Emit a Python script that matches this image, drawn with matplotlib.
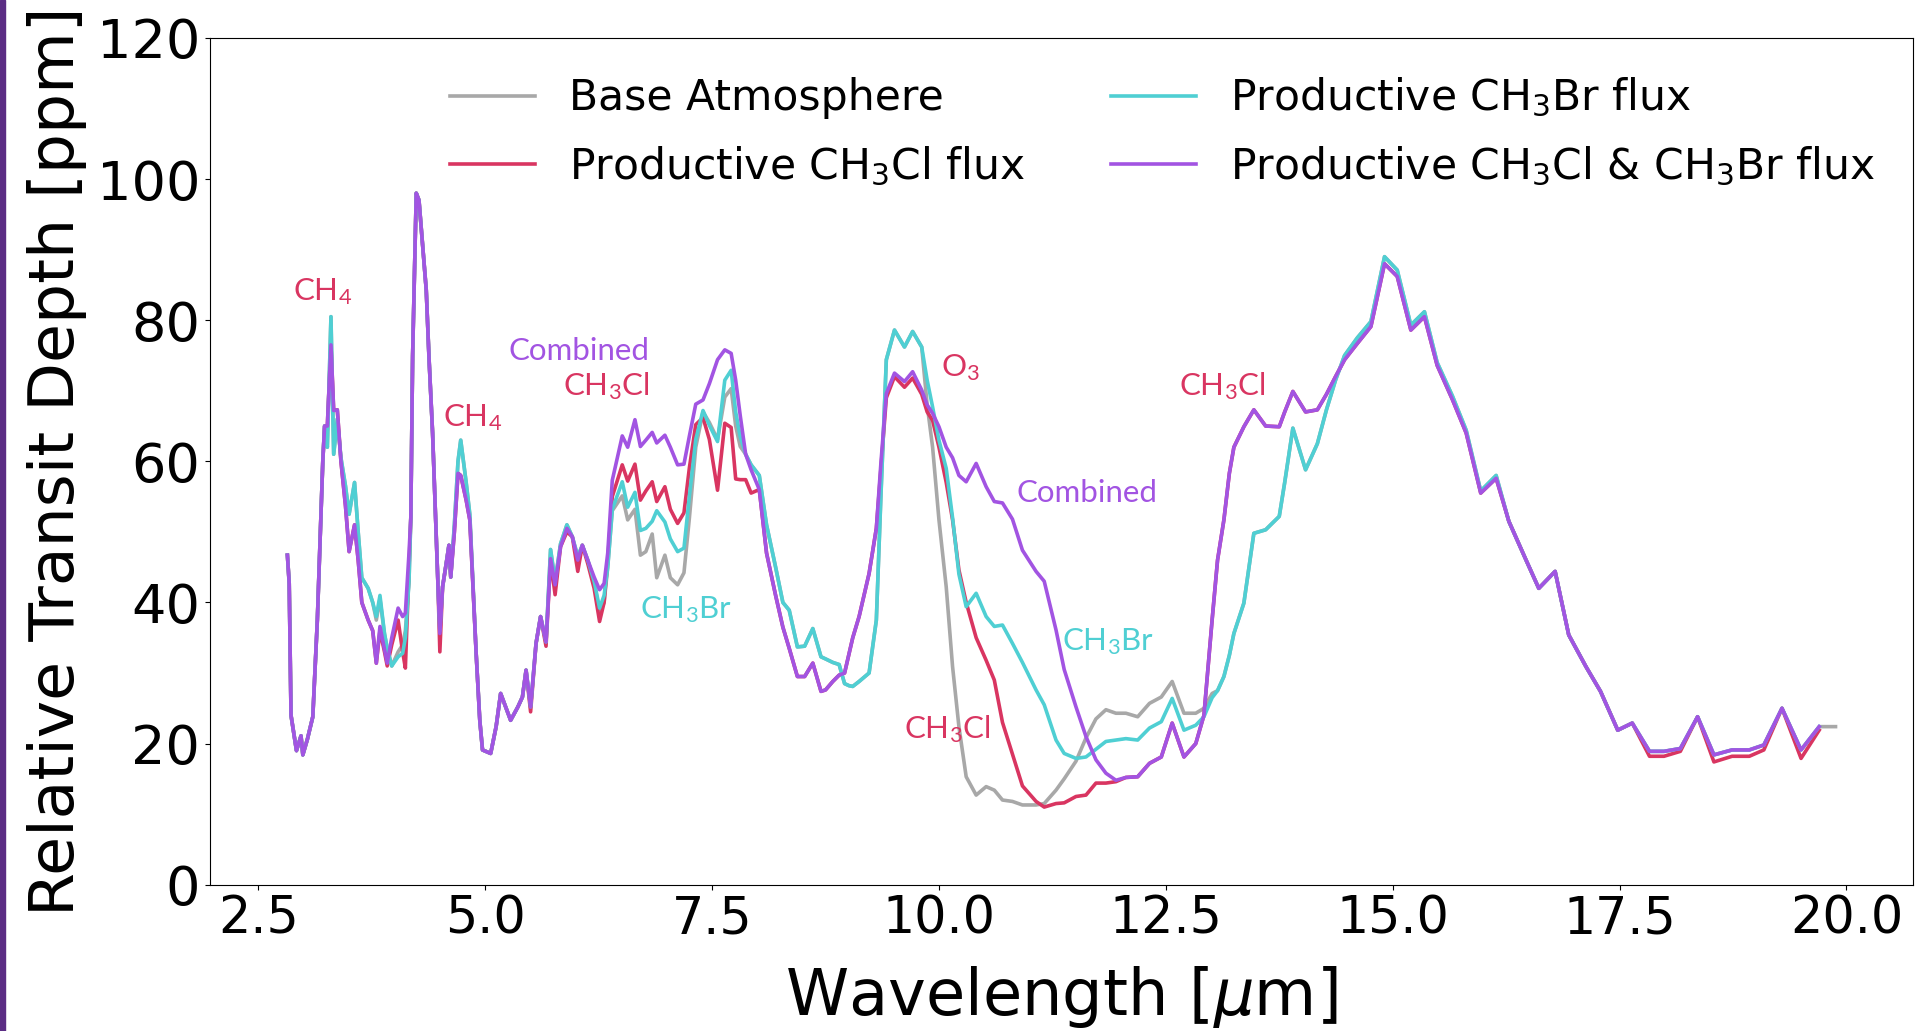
import matplotlib
matplotlib.use("Agg")
import matplotlib.pyplot as plt
import numpy as np
from matplotlib.patches import Rectangle


OUTPUT_IMAGE = "out.png"

wavelength = [
    2.82, 2.84, 2.86, 2.92, 2.97, 2.99, 3.04, 3.10, 3.15, 3.21,
    3.23, 3.26, 3.30, 3.33, 3.37, 3.41, 3.46, 3.50, 3.56, 3.60,
    3.64, 3.71, 3.76, 3.80, 3.84, 3.89, 3.92, 3.97, 4.04, 4.09,
    4.12, 4.16, 4.18, 4.20, 4.24, 4.27, 4.35, 4.38, 4.42, 4.48,
    4.50, 4.53, 4.57, 4.60, 4.62, 4.66, 4.70, 4.73, 4.79, 4.83,
    4.90, 4.94, 4.97, 5.06, 5.12, 5.17, 5.28, 5.36, 5.41, 5.45,
    5.50, 5.56, 5.61, 5.67, 5.72, 5.77, 5.83, 5.90, 5.96, 6.02,
    6.07, 6.13, 6.20, 6.26, 6.31, 6.35, 6.40, 6.51, 6.57, 6.65,
    6.71, 6.77, 6.84, 6.89, 6.98, 7.04, 7.12, 7.19, 7.25, 7.32,
    7.40, 7.47, 7.56, 7.64, 7.71, 7.76, 7.81, 7.87, 7.93, 8.02,
    8.10, 8.20, 8.28, 8.35, 8.44, 8.52, 8.61, 8.70, 8.75, 8.83,
    8.90, 8.96, 9.01, 9.05, 9.12, 9.23, 9.31, 9.36, 9.42, 9.51,
    9.62, 9.71, 9.81, 9.87, 9.93, 10.00, 10.08, 10.15, 10.22, 10.30,
    10.41, 10.52, 10.61, 10.70, 10.81, 10.92, 11.07, 11.16, 11.29, 11.38,
    11.51, 11.62, 11.73, 11.84, 11.95, 12.06, 12.19, 12.32, 12.45, 12.57,
    12.70, 12.83, 12.92, 13.01, 13.07, 13.14, 13.20, 13.25, 13.36, 13.47,
    13.60, 13.75, 13.81, 13.90, 14.04, 14.17, 14.27, 14.37, 14.47, 14.61,
    14.76, 14.91, 15.05, 15.20, 15.35, 15.49, 15.66, 15.81, 15.97, 16.14,
    16.28, 16.47, 16.61, 16.79, 16.94, 17.13, 17.29, 17.48, 17.64, 17.83,
    17.99, 18.17, 18.36, 18.54, 18.74, 18.93, 19.09, 19.29, 19.50, 19.70,
    19.88,
]

base = [
    46.7, 42.7, 24.0, 19.0, 21.1, 18.4, 20.6, 23.8, 37.5, 60.0,
    65.0, 62.0, 80.5, 61.0, 66.0, 60.5, 56.5, 52.5, 57.0, 50.0,
    43.5, 42.0, 40.0, 37.5, 40.5, 35.5, 33.5, 31.0, 33.0, 34.0,
    36.0, 43.0, 52.0, 75.0, 98.0, 97.0, 84.3, 74.8, 64.0, 42.2,
    36.0, 42.2, 45.5, 48.1, 43.6, 51.0, 60.0, 63.0, 57.0, 52.5,
    32.8, 23.3, 19.1, 18.6, 22.4, 27.1, 23.3, 25.2, 26.6, 30.4,
    25.2, 34.2, 38.0, 34.4, 47.5, 43.0, 48.3, 51.0, 49.3, 46.5,
    48.1, 46.0, 43.0, 38.5, 40.0, 45.0, 53.0, 55.1, 51.7, 53.2,
    46.7, 47.2, 49.7, 43.5, 46.7, 43.5, 42.5, 44.2, 52.0, 62.0,
    67.0, 65.5, 63.1, 69.1, 70.3, 65.0, 62.1, 61.0, 59.5, 58.0,
    51.0, 45.0, 40.0, 38.9, 33.7, 33.8, 36.3, 32.3, 32.0, 31.5,
    31.2, 28.5, 28.2, 28.1, 28.8, 30.0, 37.5, 55.0, 74.4, 78.6,
    76.2, 78.4, 76.2, 68.0, 62.0, 51.7, 42.2, 30.9, 22.4, 15.3,
    12.7, 13.9, 13.4, 12.0, 11.8, 11.3, 11.3, 11.5, 13.4, 15.0,
    17.5, 20.8, 23.5, 24.8, 24.3, 24.3, 23.8, 25.7, 26.6, 28.8,
    24.3, 24.3, 25.0, 27.1, 27.5, 29.5, 32.5, 35.6, 39.9, 49.8,
    50.3, 52.2, 57.0, 64.7, 58.8, 62.5, 67.3, 71.5, 75.0, 77.5,
    79.8, 89.0, 87.1, 79.3, 81.2, 74.0, 69.2, 64.4, 55.8, 58.0,
    51.5, 46.0, 42.0, 44.4, 35.4, 30.9, 27.4, 21.9, 22.9, 18.9,
    18.9, 19.3, 23.8, 18.4, 19.1, 19.1, 19.8, 25.0, 19.1, 22.4,
    22.4,
]

ch3cl = [
    46.7, 42.7, 24.0, 19.0, 21.1, 18.4, 20.6, 23.8, 37.5, 60.0,
    65.0, 65.0, 76.5, 67.2, 67.3, 60.0, 53.7, 47.2, 51.0, 46.0,
    40.0, 37.5, 36.0, 31.4, 36.0, 33.0, 31.0, 34.0, 37.5, 33.0,
    30.7, 45.0, 52.0, 75.0, 98.0, 97.0, 84.3, 74.8, 64.0, 42.2,
    33.0, 42.2, 45.5, 48.1, 43.6, 50.0, 58.3, 58.0, 54.5, 51.7,
    32.8, 23.3, 19.1, 18.6, 22.4, 27.1, 23.3, 25.2, 26.6, 30.4,
    24.5, 34.2, 38.0, 33.8, 46.0, 41.1, 47.9, 50.0, 49.3, 44.4,
    48.1, 45.5, 42.0, 37.3, 40.0, 46.0, 55.0, 59.5, 57.2, 59.6,
    54.5, 55.8, 57.1, 54.3, 56.4, 53.2, 51.2, 52.7, 59.1, 65.2,
    66.2, 63.1, 55.9, 65.4, 64.8, 57.5, 57.4, 57.4, 55.5, 56.0,
    47.0, 41.0, 36.5, 33.5, 29.5, 29.5, 31.4, 27.4, 27.6, 28.8,
    29.7, 30.0, 32.8, 35.0, 38.0, 44.1, 50.5, 59.0, 69.0, 72.0,
    70.5, 71.8, 69.5, 67.0, 65.8, 62.0, 57.0, 51.7, 44.6, 40.0,
    35.0, 31.8, 29.0, 23.0, 18.5, 14.0, 11.8, 11.0, 11.5, 11.6,
    12.5, 12.7, 14.4, 14.4, 14.6, 15.2, 15.3, 17.2, 18.1, 22.9,
    18.1, 20.0, 24.0, 37.5, 46.0, 51.7, 58.3, 62.0, 64.9, 67.3,
    65.0, 64.9, 67.0, 69.9, 67.0, 67.3, 69.5, 72.0, 74.4, 76.7,
    79.1, 88.0, 86.2, 78.6, 80.5, 73.6, 68.7, 64.0, 55.5, 57.6,
    51.5, 46.0, 42.0, 44.4, 35.4, 30.9, 27.4, 21.9, 22.9, 18.2,
    18.2, 18.9, 23.8, 17.4, 18.2, 18.2, 19.1, 25.0, 17.9, 21.9,
    np.nan,
]

ch3br = [
    46.7, 42.7, 24.0, 19.0, 21.1, 18.4, 20.6, 23.8, 37.5, 60.0,
    65.0, 62.0, 80.5, 61.0, 66.0, 60.5, 56.5, 52.5, 57.0, 50.0,
    43.5, 42.0, 40.0, 38.0, 41.0, 35.6, 33.5, 31.0, 32.3, 32.8,
    35.0, 43.0, 52.0, 75.0, 98.0, 97.0, 84.3, 74.8, 64.0, 42.2,
    36.0, 42.2, 45.5, 48.1, 43.6, 51.0, 60.0, 63.0, 57.0, 52.5,
    32.8, 23.3, 19.1, 18.6, 22.4, 27.1, 23.3, 25.2, 26.6, 30.4,
    25.2, 34.2, 38.0, 34.4, 47.5, 43.0, 48.3, 51.0, 49.3, 46.5,
    48.1, 46.0, 43.0, 39.2, 41.0, 45.0, 53.2, 57.1, 53.5, 55.6,
    50.2, 50.5, 51.5, 53.0, 51.4, 49.0, 47.2, 47.7, 55.1, 63.1,
    67.2, 65.1, 62.8, 71.5, 72.9, 67.0, 63.5, 61.0, 59.5, 58.0,
    51.0, 45.0, 40.0, 38.9, 33.7, 33.8, 36.3, 32.3, 32.0, 31.5,
    31.2, 28.5, 28.2, 28.1, 28.8, 30.0, 37.5, 55.0, 74.4, 78.6,
    76.2, 78.4, 76.2, 71.5, 67.7, 63.0, 59.0, 52.0, 44.0, 39.4,
    41.3, 38.0, 36.6, 36.8, 34.2, 31.5, 27.6, 25.5, 20.5, 18.6,
    17.9, 18.1, 19.2, 20.3, 20.5, 20.7, 20.5, 22.2, 23.1, 26.4,
    21.9, 22.6, 23.8, 26.5, 27.5, 29.5, 32.5, 35.6, 39.9, 49.8,
    50.3, 52.2, 57.0, 64.7, 58.8, 62.5, 67.3, 71.5, 75.0, 77.5,
    79.8, 89.0, 87.1, 79.3, 81.2, 74.0, 69.2, 64.4, 55.8, 58.0,
    51.5, 46.0, 42.0, 44.4, 35.4, 30.9, 27.4, 21.9, 22.9, 18.9,
    18.9, 19.3, 23.8, 18.4, 19.1, 19.1, 19.8, 25.0, 19.1, 22.4,
    np.nan,
]

combined = [
    46.7, 42.7, 24.0, 19.0, 21.1, 18.4, 20.6, 23.8, 37.5, 60.0,
    65.0, 65.0, 76.5, 67.2, 67.3, 60.0, 53.7, 47.2, 51.0, 46.0,
    40.0, 37.5, 36.0, 31.4, 36.6, 33.3, 31.4, 35.0, 39.2, 38.0,
    38.5, 47.0, 52.0, 75.0, 98.0, 97.0, 84.3, 74.8, 64.0, 42.2,
    35.6, 42.2, 45.5, 48.1, 43.6, 50.0, 58.3, 58.0, 54.5, 51.7,
    32.8, 23.3, 19.1, 18.6, 22.4, 27.1, 23.3, 25.2, 26.6, 30.4,
    25.2, 34.2, 38.0, 34.4, 46.2, 42.5, 47.9, 50.5, 49.3, 46.0,
    48.1, 46.0, 43.6, 41.8, 42.7, 47.0, 57.3, 63.6, 62.0, 65.9,
    62.1, 63.0, 64.1, 62.6, 63.7, 62.0, 59.5, 59.6, 63.6, 68.1,
    68.7, 71.0, 74.4, 75.8, 75.3, 71.5, 66.5, 61.0, 58.8, 56.0,
    47.0, 41.0, 36.5, 33.5, 29.5, 29.5, 31.4, 27.4, 27.6, 28.8,
    29.7, 30.0, 32.8, 35.0, 38.0, 44.1, 50.5, 59.7, 69.6, 72.5,
    71.3, 72.7, 70.1, 68.0, 66.8, 64.9, 62.0, 60.5, 58.0, 57.1,
    59.7, 56.4, 54.3, 54.1, 51.8, 47.4, 44.4, 43.0, 36.1, 30.5,
    25.2, 21.0, 17.7, 15.8, 14.8, 15.2, 15.3, 17.2, 18.1, 22.9,
    18.1, 20.0, 24.0, 37.5, 46.0, 51.7, 58.3, 62.0, 64.9, 67.3,
    65.0, 64.9, 67.0, 69.9, 67.0, 67.3, 69.5, 72.0, 74.4, 76.7,
    79.1, 88.0, 86.2, 78.6, 80.5, 73.6, 68.7, 64.0, 55.5, 57.6,
    51.5, 46.0, 42.0, 44.4, 35.4, 30.9, 27.4, 21.9, 22.9, 18.9,
    18.9, 19.3, 23.8, 18.4, 19.1, 19.1, 19.8, 25.0, 19.1, 22.4,
    np.nan,
]

series_labels = [
    "Base Atmosphere",
    r"Productive CH$\mathregular{_3}$Cl flux",
    r"Productive CH$\mathregular{_3}$Br flux",
    r"Productive CH$\mathregular{_3}$Cl & CH$\mathregular{_3}$Br flux",
]

GRAY = "#a8a8a8"
RED = "#d93561"
CYAN = "#4fcfd3"
PURPLE = "#a254e2"

# (text, x, y, colour, ha)
annotations = [
    (r"CH$\mathregular{_4}$", 2.88, 82.8, RED, "left"),
    (r"CH$\mathregular{_4}$", 4.54, 65.0, RED, "left"),
    ("Combined", 6.81, 74.4, PURPLE, "right"),
    (r"CH$\mathregular{_3}$Cl", 6.81, 69.4, RED, "right"),
    (r"CH$\mathregular{_3}$Br", 6.71, 37.8, CYAN, "left"),
    (r"O$\mathregular{_3}$", 10.02, 72.0, RED, "left"),
    ("Combined", 10.86, 54.3, PURPLE, "left"),
    (r"CH$\mathregular{_3}$Br", 11.36, 33.3, CYAN, "left"),
    (r"CH$\mathregular{_3}$Cl", 9.62, 20.8, RED, "left"),
    (r"CH$\mathregular{_3}$Cl", 12.64, 69.4, RED, "left"),
]


def main() -> None:
    fig = plt.figure(figsize=(19.16, 10.31), dpi=100)
    ax = fig.add_axes([0.1096, 0.1419, 0.8888, 0.8213])

    x = np.array(wavelength)
    for values, color, label in zip(
        [base, ch3cl, ch3br, combined],
        [GRAY, RED, CYAN, PURPLE],
        series_labels,
    ):
        ax.plot(x, values, color=color, lw=2.6, label=label)

    for text, tx, ty, color, ha in annotations:
        ax.text(tx, ty, text, color=color, fontsize=22.5, ha=ha,
                va="baseline", family="Lato")

    ax.set_ylim(0, 120)
    ax.set_yticks([0, 20, 40, 60, 80, 100, 120])
    ax.set_xticks([2.5, 5.0, 7.5, 10.0, 12.5, 15.0, 17.5, 20.0])
    ax.tick_params(axis="x", labelsize=36.5)
    ax.tick_params(axis="y", labelsize=39)
    ax.set_xlabel(r"Wavelength [$\mu$m]", fontsize=46, labelpad=14)
    ax.set_ylabel("Relative Transit Depth [ppm]", fontsize=45.5, labelpad=7)

    ax.legend(loc="upper right", ncol=2, frameon=False, fontsize=30.6,
              labelspacing=0.6)

    # purple slide edge on the far left
    fig.patches.append(Rectangle((0, 0), 5 / 1916, 1, transform=fig.transFigure,
                                 color="#5b2d84", zorder=10))

    fig.savefig(OUTPUT_IMAGE, dpi=100)
    plt.close(fig)


if __name__ == "__main__":
    main()
